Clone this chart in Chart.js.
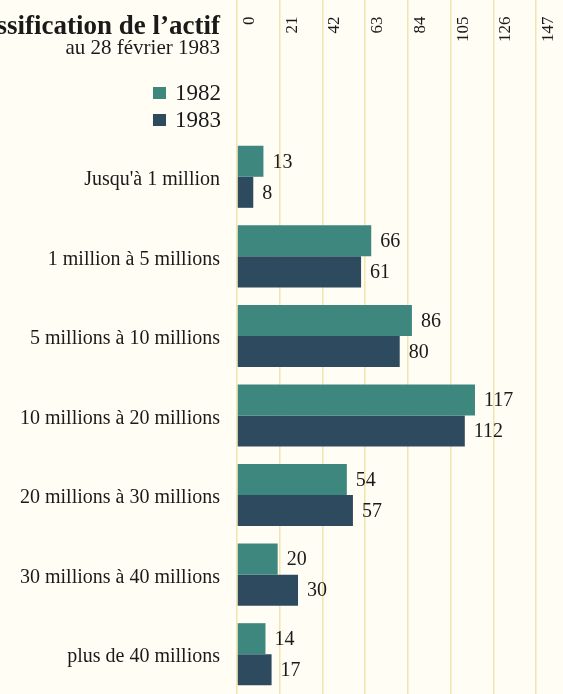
<!DOCTYPE html>
<html lang="fr">
<head>
<meta charset="utf-8">
<title>Classification de l'actif</title>
<script src="https://cdn.jsdelivr.net/npm/chart.js@4.4.0/dist/chart.umd.min.js"></script>
<style>
  html, body { margin: 0; padding: 0; background: #fffdf4; overflow: hidden; }
  #wrap { position: relative; width: 563px; height: 694px; }
  .hdr { position: absolute; right: 343px; white-space: nowrap; font-family: 'Liberation Serif', serif; color: #1a1a1a; }
  #title { top: 10px; font-size: 27px; font-weight: bold; }
  #sub { top: 35px; font-size: 21px; }
  #legend { position: absolute; right: 342px; top: 79px; font-family: 'Liberation Serif', serif; font-size: 23px; color: #1a1a1a; }
  .item { display: flex; align-items: center; justify-content: flex-end; height: 27px; }
  .box { width: 13px; height: 12px; margin-right: 9px; }
</style>
</head>
<body>
<div id="wrap">
  <canvas id="chart"></canvas>
  <div class="hdr" id="title">Classification de l’actif</div>
  <div class="hdr" id="sub">au 28 février 1983</div>
  <div id="legend"></div>
</div>
<script>
const categories = [
  "Jusqu'à 1 million",
  "1 million à 5 millions",
  "5 millions à 10 millions",
  "10 millions à 20 millions",
  "20 millions à 30 millions",
  "30 millions à 40 millions",
  "plus de 40 millions"
];
const years = ['1982', '1983'];
const values1982 = [13, 66, 86, 117, 54, 20, 14];
const values1983 = [8, 61, 80, 112, 57, 30, 17];
const xTicks = [0, 21, 42, 63, 84, 105, 126, 147];
const colors = ['#3d877f', '#2e4a5f'];

const serif = 'Liberation Serif';

// legend, top left of the plot
document.getElementById('legend').innerHTML = years.map((y, i) =>
  `<div class="item"><span class="box" style="background:${colors[i]}"></span>${y}</div>`
).join('');

// numbers at the end of each bar
const valueLabels = {
  id: 'valueLabels',
  afterDatasetsDraw(chart) {
    const ctx = chart.ctx;
    ctx.save();
    ctx.font = `20px "${serif}"`;
    ctx.fillStyle = '#1a1a1a';
    ctx.textBaseline = 'middle';
    chart.data.datasets.forEach((ds, i) => {
      chart.getDatasetMeta(i).data.forEach((bar, j) => {
        ctx.fillText(ds.data[j], bar.x + 9, bar.y + 1);
      });
    });
    ctx.restore();
  }
};

new Chart(document.getElementById('chart'), {
  type: 'bar',
  data: {
    labels: categories,
    datasets: [
      { label: years[0], data: values1982, backgroundColor: colors[0], barPercentage: 1, categoryPercentage: 0.78 },
      { label: years[1], data: values1983, backgroundColor: colors[1], barPercentage: 1, categoryPercentage: 0.78 }
    ]
  },
  options: {
    indexAxis: 'y',
    responsive: true,
    maintainAspectRatio: false,
    animation: false,
    layout: { padding: { left: 0, right: 27, top: 0, bottom: 0 } },
    plugins: {
      legend: { display: false },
      tooltip: { enabled: false }
    },
    scales: {
      x: {
        position: 'top',
        min: 0,
        max: 147,
        afterBuildTicks: s => { s.ticks = xTicks.map(v => ({ value: v })); },
        afterFit: s => { s.height = 137; },
        grid: { color: '#f1e5ad', lineWidth: 1.5, tickLength: 137 },
        border: { display: false },
        ticks: {
          minRotation: 90,
          maxRotation: 90,
          padding: -42,
          labelOffset: 33,
          color: '#1a1a1a',
          font: { family: serif, size: 17 },
          callback: v => String(v).padStart(3, '\u2007')
        }
      },
      y: {
        afterFit: s => { s.width = 237; s.paddingTop = 0; s.paddingBottom = 0; },
        grid: { display: false, drawTicks: false },
        border: { display: false },
        ticks: {
          padding: 17,
          labelOffset: 3,
          color: '#1a1a1a',
          font: { family: serif, size: 20 }
        }
      }
    }
  },
  plugins: [valueLabels]
});
</script>
</body>
</html>
